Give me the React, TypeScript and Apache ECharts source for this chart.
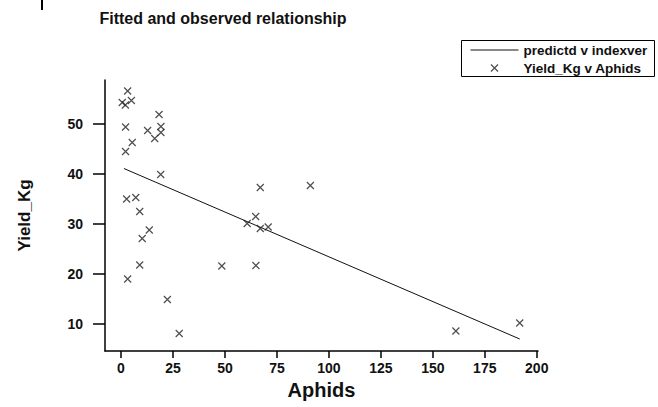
import React, { useEffect, useRef } from "react";
import * as echarts from "echarts";

const aphids = [3.2, 0.6, 2.1, 5.0, 18.3, 2.2, 12.8, 19.2, 19.2, 16.2, 5.4, 2.2, 19.1, 2.7, 7.1, 9.0, 13.6, 10.2, 9.0, 3.2, 22.3, 28.0, 48.5, 64.9, 60.7, 64.8, 67.0, 67.0, 70.8, 91.1, 161.1, 191.8];
const yieldKg = [56.6, 54.3, 53.8, 54.7, 51.9, 49.4, 48.7, 49.5, 48.3, 47.1, 46.3, 44.5, 39.9, 35.0, 35.3, 32.5, 28.8, 27.1, 21.8, 19.0, 14.9, 8.1, 21.6, 21.7, 30.1, 31.5, 37.3, 29.1, 29.4, 37.7, 8.6, 10.2];
const predX = [1.4, 191.8];
const predY = [41.1, 7.0];
const xTicks = [0, 25, 50, 75, 100, 125, 150, 175, 200];
const yTicks = [10, 20, 30, 40, 50];

const FONT = "'Liberation Sans', Arial, sans-serif";

export default function App() {
  const ref = useRef<HTMLDivElement>(null);
  useEffect(() => {
    document.body.style.margin = "0";
    const chart = echarts.init(ref.current!, undefined, { renderer: "svg" });
    chart.setOption({
      animation: false,
      backgroundColor: "#ffffff",
      textStyle: { fontFamily: FONT },
      grid: { left: 105, top: 80, right: 120, bottom: 56, containLabel: false },
      graphic: [
        {
          type: "text",
          x: 223,
          y: 18,
          style: {
            text: "Fitted and observed relationship",
            font: "bold 16px " + FONT,
            fill: "#111",
            textAlign: "center",
            textVerticalAlign: "middle",
          },
        },
        {
          type: "rect",
          shape: { x: 41, y: 0, width: 2, height: 10 },
          style: { fill: "#000" },
        },
        {
          type: "rect",
          shape: { x: 461.5, y: 40.5, width: 193, height: 36 },
          style: { fill: "none", stroke: "#000", lineWidth: 1 },
        },
      ],
      legend: {
        left: 461,
        top: 41,
        orient: "vertical",
        align: "left",
        itemWidth: 48,
        itemHeight: 7,
        itemGap: 4,
        padding: [2, 6, 3, 9],
        borderWidth: 0,
        textStyle: { fontFamily: FONT, fontWeight: "bold", fontSize: 13.5, color: "#111" },
        data: [
          {
            name: "predictd v indexver",
            itemStyle: { color: "transparent", borderWidth: 0, opacity: 0 },
            lineStyle: { color: "#111", width: 1 },
          },
          {
            name: "Yield_Kg v Aphids",
            itemStyle: { color: "transparent", borderColor: "#222", borderWidth: 1.2 },
          },
        ],
      },
      xAxis: {
        type: "value",
        min: -7.7,
        max: 200.6,
        splitLine: { show: false },
        axisLine: { show: true, onZero: false, lineStyle: { color: "#000", width: 1.5 } },
        axisTick: { show: true, length: 7, customValues: xTicks, lineStyle: { color: "#000", width: 1.5 } },
        axisLabel: {
          customValues: xTicks,
          margin: 10,
          color: "#111",
          fontWeight: "bold",
          fontSize: 14,
          fontFamily: FONT,
        },
        name: "Aphids",
        nameLocation: "middle",
        nameGap: 29,
        nameTextStyle: { fontWeight: "bold", fontSize: 20, color: "#111", fontFamily: FONT },
      },
      yAxis: {
        type: "value",
        min: 4.6,
        max: 58.8,
        splitLine: { show: false },
        axisLine: { show: true, onZero: false, lineStyle: { color: "#000", width: 1.5 } },
        axisTick: { show: true, length: 12, customValues: yTicks, lineStyle: { color: "#000", width: 1.5 } },
        axisLabel: {
          customValues: yTicks,
          margin: 22,
          color: "#111",
          fontWeight: "bold",
          fontSize: 14,
          fontFamily: FONT,
        },
        name: "Yield_Kg",
        nameLocation: "middle",
        nameRotate: 90,
        nameGap: 72,
        nameTextStyle: { fontWeight: "bold", fontSize: 17, color: "#111", fontFamily: FONT },
      },
      series: [
        {
          name: "predictd v indexver",
          type: "line",
          symbol: "none",
          itemStyle: { color: "#111" },
          lineStyle: { color: "#111", width: 1 },
          data: predX.map((x, i) => [x, predY[i]]),
          z: 3,
        },
        {
          name: "Yield_Kg v Aphids",
          type: "scatter",
          symbol: "path://M0,0L10,10M10,0L0,10",
          symbolSize: 7,
          itemStyle: { color: "transparent", borderColor: "#222", borderWidth: 1.2 },
          data: aphids.map((x, i) => [x, yieldKg[i]]),
          z: 4,
        },
      ],
    });
    return () => chart.dispose();
  }, []);
  return <div ref={ref} style={{ position: "fixed", left: 0, top: 0, width: 658, height: 407 }} />;
}
